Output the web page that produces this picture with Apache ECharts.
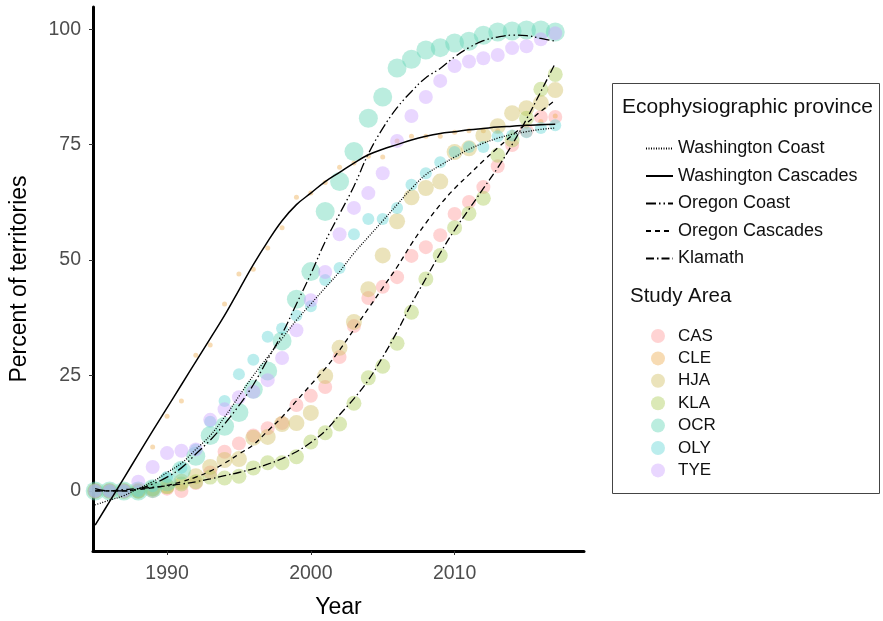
<!DOCTYPE html>
<html>
<head>
<meta charset="utf-8">
<script src="https://cdn.jsdelivr.net/npm/echarts@6/dist/echarts.min.js"></script>
<style>
  html, body { margin: 0; padding: 0; background: #fff; }
  #chart { width: 883px; height: 621px; }
</style>
</head>
<body>
<div id="chart"></div>
<script>
// years of observation
var years = [1985, 1986, 1987, 1988, 1989, 1990, 1991, 1992, 1993, 1994, 1995,
  1996, 1997, 1998, 1999, 2000, 2001, 2002, 2003, 2004, 2005, 2006,
  2007, 2008, 2009, 2010, 2011, 2012, 2013, 2014, 2015, 2016, 2017];

// study areas (points), percent of territories
var CAS = [0, 0, 0, 0, 0, 0.5, 0, 1.7, 4, 8.5, 10.3, 12, 13.6, 14.7, 18.6, 20.6, 22.5,
  29, 35.7, 41.8, 44.2, 46.3, 50.9, 52.8, 55.4, 60, 62.6, 65.8, 70.3, 74.9, 78, 81, 81];
var CLE = [0, 0, 0, 0, 9.5, 16.2, 19.5, 29.4, 31.6, 40.5, 47, 48, 52.6, 57, 63.6, 64.5, 66.8,
  70.1, 71, 72.5, 72.3, 75.8, 76.8, 76.8, 76.8, 77.7, 78, 78, 78, 77.7, 79, 80, 81.2];
var HJA = [0, 0, 0, 0, 0.5, 1, 2, 3.2, 5.2, 6.7, 6.9, 11.5, 11.7, 14.5, 14.7, 16.9, 24.9,
  31, 36.6, 43.7, 51, 58.4, 63.6, 65.6, 67, 73.4, 74.2, 77, 79, 81.8, 82.9, 84, 86.8];
var KLA = [0, 0, 0, 0, 0.5, 1, 1.5, 2, 3, 2.8, 3.2, 5, 6.1, 6.1, 7.4, 10.6, 12.6,
  14.5, 19, 24.5, 27, 32, 38.7, 45.9, 51, 57, 60.1, 63.4, 72.7, 76, 80.7, 87, 90.2];
var OCR = [0, 0, 0, 0, 0.5, 2, 4.5, 7.5, 12, 14, 17, 22, 26, 32.5, 41.5, 47.5, 60.5,
  67, 73.5, 80.7, 85.3, 91.6, 93.5, 95.5, 96, 97, 97.4, 98.7, 99.4, 99.6, 99.8, 99.8, 99.4];
var OLY = [0, 0, 0, 0, 1, 3, 5, 9, 15, 19.5, 25.3, 28.4, 33.4, 35.2, 38, 40, 45.7,
  48.3, 55.6, 58.9, 58.9, 61.3, 66.3, 68.8, 71.2, 73.4, 74.5, 74.5, 76.8, 77, 77.7, 78.6, 79.2];
var TYE = [0, 0, 0, 2, 5.2, 8.2, 8.7, 9, 15.4, 17.7, 20.3, 21.5, 24, 28.8, 34.8, 41.3, 47.4,
  55.6, 61.3, 64.5, 68.8, 75.8, 81.2, 85.3, 88.8, 92, 93, 93.7, 94.4, 95.9, 96.3, 97.8, 99.1];

// fitted curves per province
var washingtonCoast = [-3, -2, -1, 0.5, 2, 4, 6, 9, 12, 16, 20.5, 25, 29, 33, 37, 40.5, 44,
  47.5, 51.5, 55, 58.5, 62, 65.5, 68.5, 70.5, 72.3, 74, 75.3, 76.4, 77.2, 77.8, 78.3, 78.6];
var washingtonCascades = [-7.4, -2.3, 2.8, 7.9, 13, 18, 23, 28, 33, 38, 43.5, 49, 54, 58.5, 62, 64.5, 67,
  69, 71, 72.8, 74, 75, 76, 76.8, 77.4, 77.8, 78.2, 78.5, 78.8, 79, 79.2, 79.3, 79.4];
var oregonCoast = [0.5, 0, 0, 0.5, 1.5, 3, 5, 8, 11, 14.5, 18.5, 23, 28.5, 34, 40.5, 47, 54,
  60, 66, 73, 78.5, 83, 86.5, 89.5, 91.5, 94, 96, 97.5, 98.3, 98.7, 98.6, 98, 97.4];
var oregonCascades = [0, 0, 0, 0.3, 0.7, 1.2, 2, 3, 4.3, 6, 8, 10, 13, 16, 19.5, 23, 26.5,
  30.5, 35, 39.5, 44, 48.5, 53.5, 58, 62, 65.5, 68.5, 71.5, 74.3, 77, 79.6, 82.2, 84.6];
var klamath = [0, 0, 0.3, 0.5, 0.8, 1.1, 1.5, 2, 2.6, 3.3, 4, 4.8, 5.8, 7, 8.5, 10.5, 13,
  16.5, 20, 24, 29, 34.5, 40.5, 46, 51.5, 56.5, 61, 65.5, 70, 75, 80.5, 86.5, 92.6];

var xTicks = [1990, 2000, 2010];
var yTicks = [0, 25, 50, 75, 100];

var areaNames = ['CAS', 'CLE', 'HJA', 'KLA', 'OCR', 'OLY', 'TYE'];
var areaValues = [CAS, CLE, HJA, KLA, OCR, OLY, TYE];
var areaColors = ['rgba(255,155,155,0.55)', 'rgba(237,173,82,0.55)', 'rgba(210,191,100,0.55)',
  'rgba(173,206,91,0.55)', 'rgba(100,213,182,0.55)', 'rgba(100,213,213,0.55)', 'rgba(206,164,255,0.55)'];
var areaSizes = [14, 5, 16, 15, 19, 12, 14];

var provNames = ['Washington Coast', 'Washington Cascades', 'Oregon Coast', 'Oregon Cascades', 'Klamath'];
var provValues = [washingtonCoast, washingtonCascades, oregonCoast, oregonCascades, klamath];
var provDash = [[1, 1.5], 'solid', [10, 3, 1.5, 3, 1.5, 3], [5, 4], [8, 3, 1.5, 3]];

function pairs(vals) {
  return years.map(function (y, i) { return [y, vals[i]]; });
}

var chart = echarts.init(document.getElementById('chart'));
var font = 'Liberation Sans, Arial, sans-serif';

var series = [];
areaNames.forEach(function (n, i) {
  series.push({
    name: n, type: 'scatter', data: pairs(areaValues[i]),
    symbolSize: areaSizes[i],
    itemStyle: { color: areaColors[i] },
    z: 2
  });
});
provNames.forEach(function (n, i) {
  series.push({
    name: n, type: 'line', data: pairs(provValues[i]),
    smooth: 0.4, symbol: 'none',
    itemStyle: { color: '#000' },
    lineStyle: { color: '#000', width: provDash[i] === 'solid' ? 1.5 : 1.3, type: provDash[i] },
    z: 5
  });
});

var option = {
  animation: false,
  textStyle: { fontFamily: font },
  grid: { left: 93, right: 299, top: 7, bottom: 70, outerBoundsMode: 'none', containLabel: false },
  xAxis: {
    type: 'value', min: 1984.85, max: 2019,
    name: 'Year', nameLocation: 'middle', nameGap: 45,
    nameTextStyle: { fontSize: 23, color: '#000', fontFamily: font },
    axisLine: { onZero: false, lineStyle: { color: '#000', width: 3 } },
    axisTick: { customValues: xTicks, length: 4, lineStyle: { color: '#333' } },
    axisLabel: { customValues: xTicks, fontSize: 19.5, color: '#4d4d4d', margin: 13,
      formatter: function (v) { return String(v); } },
    splitLine: { show: false }
  },
  yAxis: {
    type: 'value', min: -13, max: 104.8,
    name: 'Percent of territories', nameLocation: 'middle', nameGap: 62,
    nameTextStyle: { fontSize: 23, color: '#000', fontFamily: font },
    axisLine: { onZero: false, lineStyle: { color: '#000', width: 3 } },
    axisTick: { customValues: yTicks, length: 4, lineStyle: { color: '#333' } },
    axisLabel: { customValues: yTicks, fontSize: 19.5, color: '#4d4d4d', margin: 12 },
    splitLine: { show: false }
  },
  legend: [{
    data: provNames, orient: 'vertical', left: 645, top: 138.5, padding: 0,
    itemWidth: 27, itemHeight: 14, itemGap: 7.5,
    itemStyle: { opacity: 0 },
    textStyle: { fontSize: 18, color: '#111', lineHeight: 20, fontFamily: font }
  }, {
    data: areaNames, orient: 'vertical', left: 651, top: 327, padding: 0,
    itemWidth: 30, itemHeight: 14, itemGap: 4.4, icon: 'circle',
    textStyle: { fontSize: 17, color: '#111', lineHeight: 18, fontFamily: font }
  }],
  graphic: [
    { type: 'rect', shape: { x: 612.5, y: 83.5, width: 267, height: 410 },
      style: { fill: 'none', stroke: '#444', lineWidth: 1 } },
    { type: 'text', left: 622, top: 97,
      style: { text: 'Ecophysiographic province', fontSize: 21, fill: '#111', fontFamily: font } },
    { type: 'text', left: 630, top: 286,
      style: { text: 'Study Area', fontSize: 20.5, fill: '#111', fontFamily: font } }
  ],
  series: series
};
chart.setOption(option);
</script>
</body>
</html>
